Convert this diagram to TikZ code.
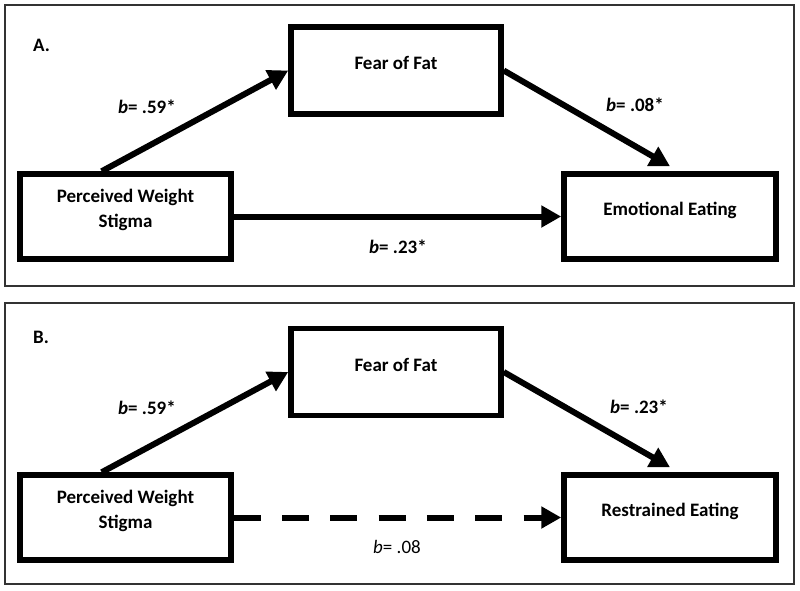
\documentclass[tikz,border=0pt]{standalone}
\usepackage{fontspec}
\setmainfont{Carlito}
\usetikzlibrary{arrows.meta,calc}
\begin{document}
\begin{tikzpicture}[x=1pt,y=-1pt,
  frame/.style={draw=black!80, line width=1.6pt},
  box/.style={draw, line width=5.5pt, inner sep=0pt, outer sep=2.75pt},
  txt/.style={font=\fontsize{19}{25}\selectfont\bfseries, align=center, inner sep=0pt},
  ntxt/.style={font=\fontsize{19}{25}\selectfont, align=center, inner sep=0pt},
  arr/.style={line width=6pt, -{Triangle[length=20pt,width=21pt]}},
  dasharr/.style={arr, dash pattern=on 27pt off 21.3pt}]
\useasboundingbox (0,0) rectangle (800,590);
% ---------- Panel A ----------
\draw[frame] (5,5) rectangle (794,286);
\node[txt, anchor=west] (la) at (33,45) {A.};
\node[box, minimum width=210pt, minimum height=87pt] (fofa) at (396,70.5) {};
\node[box, minimum width=211pt, minimum height=85pt] (pwsa) at (125.5,216.5) {};
\node[box, minimum width=212pt, minimum height=85pt] (eea) at (670,216.5) {};
\node[txt] (tfofa) at ($(fofa.center)+(0,-7.5)$) {Fear of Fat};
\node[txt] (tpwsa) at ($(pwsa.center)+(0,-7)$) {Perceived Weight\\Stigma};
\node[txt] (teea) at ($(eea.center)+(0,-6.5)$) {Emotional Eating};
\draw[arr] ($(pwsa.north west)!0.39!(pwsa.north east)$) -- (fofa.west);
\draw[arr] (fofa.east) -- ($(eea.north)+(0,-5)$);
\draw[arr] (pwsa.east) -- (eea.west);
\node[txt] (ca1) at (147,107) {\textit{b}= .59*};
\node[txt] (ca2) at (635,105) {\textit{b}= .08*};
\node[txt] (ca3) at (398,247) {\textit{b}= .23*};
% ---------- Panel B ----------
\draw[frame] (5,303) rectangle (794,584);
\node[txt, anchor=west] (lb) at (33,337) {B.};
\node[box, minimum width=210pt, minimum height=87pt] (fofb) at (396,372) {};
\node[box, minimum width=211pt, minimum height=85pt] (pwsb) at (125.5,517.5) {};
\node[box, minimum width=212pt, minimum height=85pt] (reb) at (670,517.5) {};
\node[txt] (tfofb) at ($(fofb.center)+(0,-7.5)$) {Fear of Fat};
\node[txt] (tpwsb) at ($(pwsb.center)+(0,-7)$) {Perceived Weight\\Stigma};
\node[txt] (treb) at ($(reb.center)+(0,-6.5)$) {Restrained Eating};
\draw[arr] ($(pwsb.north west)!0.39!(pwsb.north east)$) -- (fofb.west);
\draw[arr] (fofb.east) -- ($(reb.north)+(0,-5)$);
\draw[dasharr] (pwsb.east) -- (reb.west);
\node[txt] (cb1) at (147,408) {\textit{b}= .59*};
\node[txt] (cb2) at (639,407) {\textit{b}= .23*};
\node[ntxt] (cb3) at (397,547) {\textit{b}= .08};
\end{tikzpicture}
\end{document}
